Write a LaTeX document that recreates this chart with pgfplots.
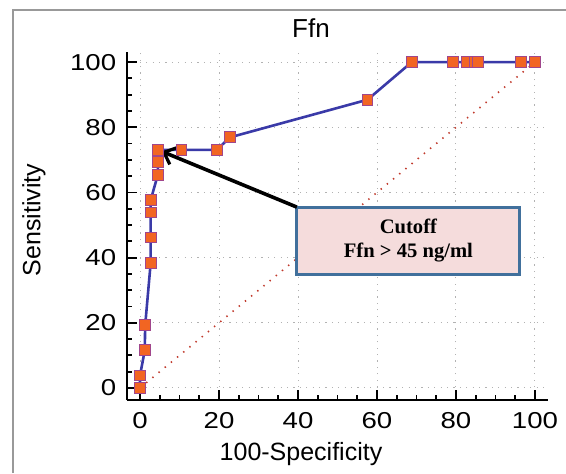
\documentclass[border=0pt]{standalone}
\usepackage{fontspec}
\setmainfont{Liberation Sans}
\newfontfamily\boxfont{Liberation Serif}
\usepackage{pgfplots}
\pgfplotsset{compat=1.18}
\usetikzlibrary{arrows.meta}
\definecolor{rocline}{HTML}{3A3AA8}
\definecolor{markfill}{HTML}{F26522}
\definecolor{markdraw}{HTML}{A0468C}
\definecolor{diag}{HTML}{C0392B}
\definecolor{boxfill}{HTML}{F5DCDC}
\definecolor{boxdraw}{HTML}{41709C}

\begin{document}
\begin{tikzpicture}
\useasboundingbox (0,0) rectangle (283pt,236.5pt);
\draw[gray!80, line width=0.9pt] (6.5pt,0) -- (6.5pt,231.5pt) -- (283pt,231.5pt);
\node[font=\fontsize{13}{15}\selectfont] at (155.5pt,222.5pt) {Ffn};
\node[font=\fontsize{12.5}{14}\selectfont] at (150.5pt,9.5pt) {100-Specificity};
\node[font=\fontsize{12.5}{14}\selectfont, rotate=90] at (17pt,126.5pt) {Sensitivity};
\begin{axis}[
    at={(63.5pt,36.5pt)}, anchor=south west,
    scale only axis, width=210.5pt, height=174pt,
    xmin=-3.3, xmax=103.3, ymin=-3.7, ymax=103.1,
    axis lines=left, axis line style={-, line width=1.3pt},
    xtick={0,20,...,100}, ytick={0,20,...,100},
    minor tick num=3,
    tick align=inside,
    major tick length=5pt, minor tick length=2.5pt,
    tick style={black, line width=0.9pt},
    /pgf/number format/assume math mode=true,
    ticklabel style={font=\fontsize{11.5}{13}\selectfont, xscale=1.2, transform shape},
    xticklabel style={yshift=-2.5pt},
    yticklabel style={xshift=-1pt},
    grid=major,
    major grid style={gray!60, line width=0.5pt, dash pattern=on 0.6pt off 2.6pt},
    clip=false,
]
\addplot[diag, line width=0.8pt, dash pattern=on 0.7pt off 3.3pt] coordinates {(0,0) (100,100)};
\addplot[rocline, line width=1.3pt, mark=square*, mark size=2.7pt,
    mark options={fill=markfill, draw=markdraw, line width=0.5pt, solid}] coordinates {
(0,0) (0,3.85) (1.2,11.54) (1.3,19.23) (2.7,38.46) (2.7,46.15) (2.7,53.85) (2.7,57.69)
(4.5,65.38) (4.5,69.23) (4.5,73.08) (10.5,73.08) (19.4,73.08) (22.8,76.92) (57.6,88.46)
(68.8,100) (79.3,100) (82.7,100) (84.8,100) (85.6,100) (96.4,100) (100,100)};
\draw[boxdraw, line width=1.5pt, fill=boxfill] (axis cs:39.7,34.7) rectangle (axis cs:96.2,55.5);
\node[align=center, font=\boxfont\bfseries\fontsize{10.3}{12}\selectfont] at (axis cs:67.95,45.1) {Cutoff\\Ffn > 45 ng/ml};
\draw[line width=1.8pt, -{Straight Barb[length=5pt,width=9pt,line width=1.6pt]}] (axis cs:39.7,55.5) -- (axis cs:5.5,72.6);
\end{axis}
\end{tikzpicture}
\end{document}
